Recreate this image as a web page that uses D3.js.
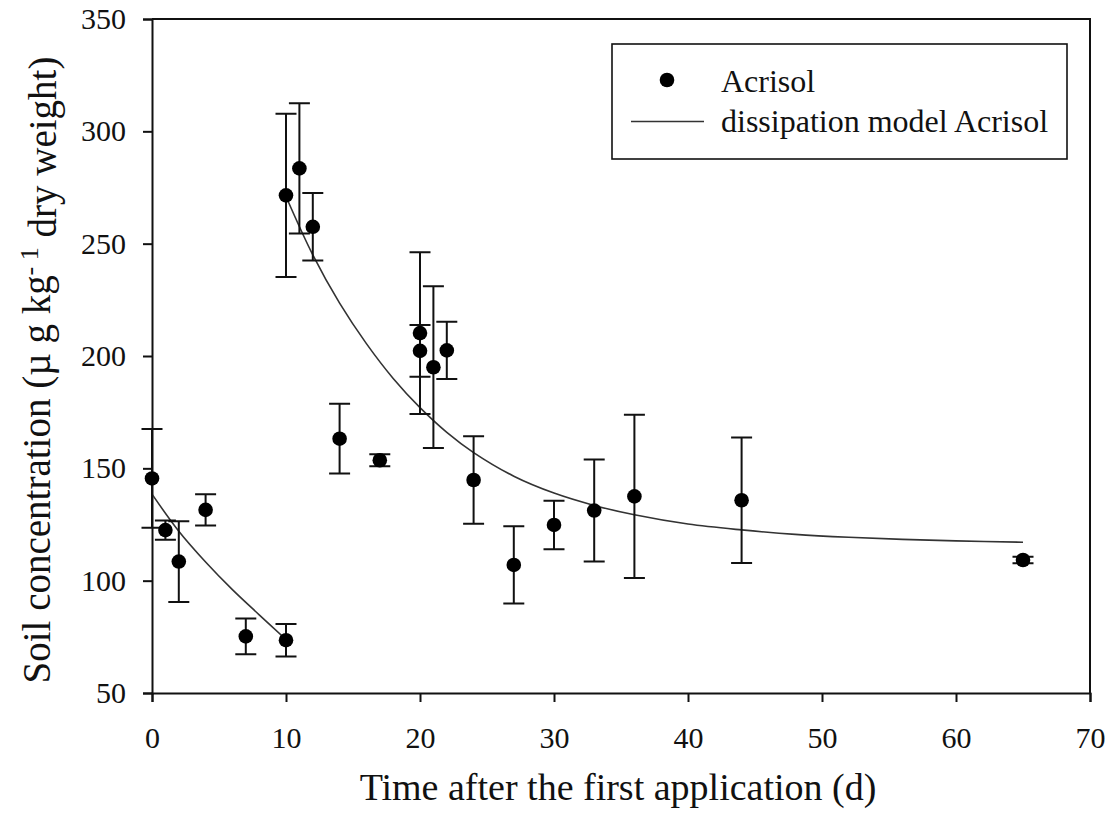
<!DOCTYPE html>
<html>
<head>
<meta charset="utf-8">
<script src="https://cdn.jsdelivr.net/npm/d3@7"></script>
<style>
  html, body { margin: 0; padding: 0; background: #fff; }
  svg { display: block; font-family: "Liberation Serif", "Times New Roman", serif; }
</style>
</head>
<body>
<svg id="chart" width="1110" height="821"></svg>
<script>
// Measured soil concentrations (mean ± error) per sampling day
const days   = [0, 1, 2, 4, 7, 10, 10, 11, 12, 14, 17, 20, 20, 21, 22, 24, 27, 30, 33, 36, 44, 65];
const means  = [145.5, 122.5, 108.5, 131.5, 75.2, 73.5, 271.5, 283.5, 257.5, 163.2, 153.6, 210.2, 202.3, 195, 202.5, 144.8, 107, 124.8, 131.2, 137.5, 135.8, 109.2];
const errors = [22, 4.3, 18, 7, 8, 7.2, 36.3, 29, 15, 15.5, 2.7, 36, 11.5, 36, 12.7, 19.5, 17.2, 10.8, 22.7, 36.3, 27.9, 1.4];

// Dissipation model, first application (day 0–10)
const modelDays1 = [0, 2, 4, 6, 8, 10];
const modelConc1 = [138.5, 122, 108.3, 96, 84.8, 73.8];

// Dissipation model, second application (day 10–65)
const modelDays2 = [10, 12, 14, 16, 18, 20, 22, 24, 27, 30, 33, 36, 40, 44, 48, 52, 56, 60, 65];
const modelConc2 = [271, 245, 223.5, 205.5, 190, 177, 166, 157, 146.5, 139, 133.5, 129.3, 125.2, 122.6, 120.6, 119.3, 118.4, 117.7, 117.1];

const xTicks = [0, 10, 20, 30, 40, 50, 60, 70];
const yTicks = [50, 100, 150, 200, 250, 300, 350];

const svg = d3.select("#chart");
const margin = { left: 152, top: 19, right: 20, bottom: 128 };
const width = 1110, height = 821;
const x = d3.scaleLinear().domain([0, 70]).range([margin.left, width - margin.right]);
const y = d3.scaleLinear().domain([50, 350]).range([height - margin.bottom, margin.top]);

const ink = "#111";
const serif = "'Liberation Serif', 'Times New Roman', serif";

// Frame (top and right edges)
svg.append("path")
  .attr("d", `M${x(0)},${y(350)}H${x(70)}V${y(50)}`)
  .attr("fill", "none").attr("stroke", ink).attr("stroke-width", 2);

// Axes
const xAxis = svg.append("g")
  .attr("transform", `translate(0,${y(50)})`)
  .call(d3.axisBottom(x).tickValues(xTicks).tickSize(9).tickPadding(19).tickFormat(d3.format("d")));
const yAxis = svg.append("g")
  .attr("transform", `translate(${x(0)},0)`)
  .call(d3.axisLeft(y).tickValues(yTicks).tickSize(9).tickPadding(17).tickFormat(d3.format("d")));
[xAxis, yAxis].forEach(g => {
  g.select(".domain").attr("stroke", ink).attr("stroke-width", 2);
  g.selectAll(".tick line").attr("stroke", ink).attr("stroke-width", 2);
  g.selectAll(".tick text").attr("fill", ink).style("font-size", "30px").style("font-family", serif);
});
xAxis.selectAll(".tick text").attr("dy", "0.9em");

// Axis titles
svg.append("text")
  .attr("x", 618).attr("y", 800)
  .attr("text-anchor", "middle").attr("fill", ink).style("font-size", "38px")
  .text("Time after the first application (d)");

const yTitle = svg.append("text")
  .attr("transform", `translate(50,370) rotate(-90)`)
  .attr("text-anchor", "middle").attr("fill", ink).style("font-size", "39px");
yTitle.append("tspan").text("Soil concentration (µ g kg");
yTitle.append("tspan").attr("dy", "-0.45em").style("font-size", "26px").text("- 1");
yTitle.append("tspan").attr("dy", "0.45em").text(" dry weight)");

// Model curves
const line = d3.line().x(d => x(d[0])).y(d => y(d[1])).curve(d3.curveCatmullRom);
const model1 = modelDays1.map((d, i) => [d, modelConc1[i]]);
const model2 = modelDays2.map((d, i) => [d, modelConc2[i]]);
[model1, model2].forEach(m => {
  svg.append("path").datum(m).attr("d", line)
    .attr("fill", "none").attr("stroke", "#333").attr("stroke-width", 1.6);
});

// Error bars
const obs = days.map((d, i) => ({ t: d, v: means[i], e: errors[i] }));
const cap = 10.5;
const eb = svg.append("g").attr("stroke", ink).attr("stroke-width", 2).attr("fill", "none");
eb.selectAll("path").data(obs).join("path")
  .attr("d", d => {
    const cx = x(d.t), y1 = y(d.v + d.e), y2 = y(d.v - d.e);
    return `M${cx},${y1}V${y2}M${cx - cap},${y1}H${cx + cap}M${cx - cap},${y2}H${cx + cap}`;
  });

// Points
svg.append("g").selectAll("circle").data(obs).join("circle")
  .attr("cx", d => x(d.t)).attr("cy", d => y(d.v)).attr("r", 7.3).attr("fill", "#000");

// Legend
const lg = svg.append("g");
lg.append("rect").attr("x", 612).attr("y", 44).attr("width", 455).attr("height", 115)
  .attr("fill", "#fff").attr("stroke", ink).attr("stroke-width", 1.6);
lg.append("circle").attr("cx", 667).attr("cy", 80).attr("r", 7.3).attr("fill", "#000");
lg.append("line").attr("x1", 631).attr("x2", 704).attr("y1", 121.5).attr("y2", 121.5)
  .attr("stroke", "#333").attr("stroke-width", 1.6);
lg.append("text").attr("x", 721).attr("y", 92).attr("fill", ink).style("font-size", "32px").text("Acrisol");
lg.append("text").attr("x", 721).attr("y", 132).attr("fill", ink).style("font-size", "32px").text("dissipation model Acrisol");
</script>
</body>
</html>
